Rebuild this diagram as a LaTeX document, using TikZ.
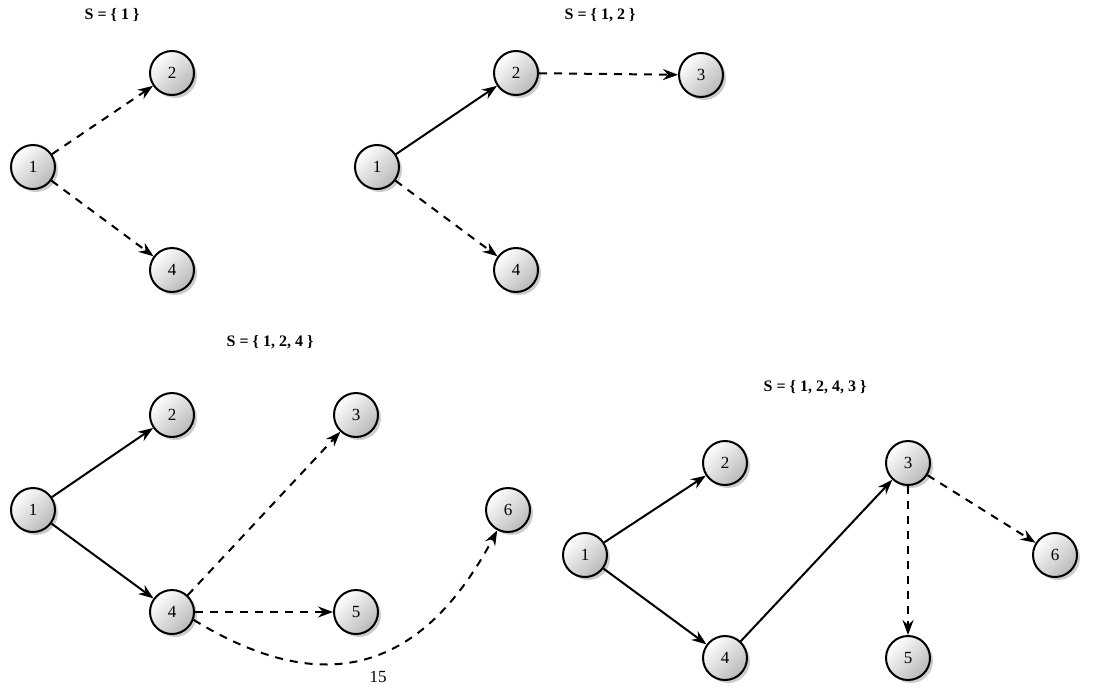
\documentclass[tikz,border=0pt]{standalone}
\usepackage{fontspec}
\setmainfont{Liberation Serif}
\usetikzlibrary{arrows.meta,shadows}
\begin{document}
\begin{tikzpicture}[x=1pt,y=-1pt,
  vtx/.style={circle,draw=black,line width=2pt,minimum size=44pt,inner sep=0pt,
    top color=white,bottom color=gray!55,shading angle=45,
    drop shadow={shadow xshift=3pt,shadow yshift=-3pt,opacity=0.4,fill=gray},
    font=\fontsize{17}{19}\selectfont},
  ttl/.style={font=\fontsize{16}{19}\selectfont\bfseries},
  sol/.style={line width=2pt,-{Stealth[length=15pt,width=11pt,inset=5pt]}},
  dsh/.style={sol,dash pattern=on 8pt off 7pt},
]
\useasboundingbox (0,0) rectangle (1097,688);
% Panel 1
\node[ttl] (t1) at (112,15) {S = \{ 1 \}};
\node[vtx] (a1) at (33,167) {1};
\node[vtx] (a2) at (172,73) {2};
\node[vtx] (a4) at (172,270) {4};
\draw[dsh] (a1) -- (a2);
\draw[dsh] (a1) -- (a4);
% Panel 2
\node[ttl] (t2) at (600,15) {S = \{ 1, 2 \}};
\node[vtx] (b1) at (377,167) {1};
\node[vtx] (b2) at (516,73) {2};
\node[vtx] (b3) at (701,75) {3};
\node[vtx] (b4) at (516,270) {4};
\draw[sol] (b1) -- (b2);
\draw[dsh] (b2) -- (b3);
\draw[dsh] (b1) -- (b4);
% Panel 3
\node[ttl] (t3) at (270,342) {S = \{ 1, 2, 4 \}};
\node[vtx] (c1) at (33,510) {1};
\node[vtx] (c2) at (172,415) {2};
\node[vtx] (c3) at (356,415) {3};
\node[vtx] (c4) at (172,612) {4};
\node[vtx] (c5) at (356,612) {5};
\node[vtx] (c6) at (508,510) {6};
\draw[sol] (c1) -- (c2);
\draw[sol] (c1) -- (c4);
\draw[dsh] (c4) -- (c3);
\draw[dsh] (c4) -- (c5);
\draw[dsh] (c4.-20) .. controls (300,685) and (410,695) .. (c6);
\node[font=\fontsize{17}{19}\selectfont] (pg) at (378,677) {15};
% Panel 4
\node[ttl] (t4) at (815,387) {S = \{ 1, 2, 4, 3 \}};
\node[vtx] (d1) at (585,555) {1};
\node[vtx] (d2) at (725,463) {2};
\node[vtx] (d3) at (908,463) {3};
\node[vtx] (d4) at (725,658) {4};
\node[vtx] (d5) at (908,658) {5};
\node[vtx] (d6) at (1055,555) {6};
\draw[sol] (d1) -- (d2);
\draw[sol] (d1) -- (d4);
\draw[sol] (d4) -- (d3);
\draw[dsh] (d3) -- (d5);
\draw[dsh] (d3) -- (d6);
\end{tikzpicture}
\end{document}
